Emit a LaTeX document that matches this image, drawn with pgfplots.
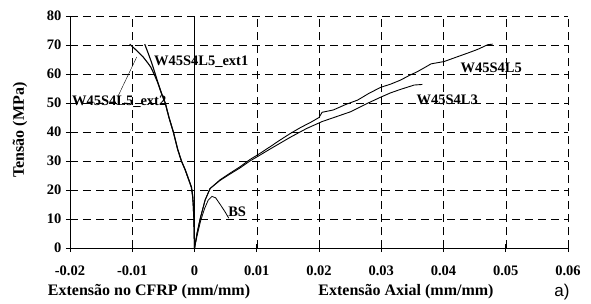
\documentclass[border=0pt]{standalone}
\usepackage{pgfplots}
\pgfplotsset{compat=1.18}
\usepackage{fontspec}
\setmainfont{Liberation Serif}
\newfontfamily\sansf{Liberation Sans}
\begin{document}
\begin{tikzpicture}
\path[use as bounding box] (-70pt,-55pt) rectangle (521pt,248pt);
\begin{axis}[
 at={(0,0)}, anchor=south west,
 scale only axis, width=498pt, height=232pt,
 xmin=-0.02, xmax=0.06, ymin=0, ymax=80,
 axis x line=bottom, axis y line=left,
 axis line style={-, line width=0.9pt},
 scaled x ticks=false, scaled y ticks=false,
 xtick={-0.02,-0.01,0,0.01,0.02,0.03,0.04,0.05,0.06},
 xticklabels={-0.02,-0.01,0,0.01,0.02,0.03,0.04,0.05,0.06},
 ytick={0,10,20,30,40,50,60,70,80},
 yticklabels={0,10,20,30,40,50,60,70,80},
 grid=major,
 major grid style={black, line width=0.5pt, dash pattern=on 8pt off 5pt},
 tick style={black, line width=0.6pt},
 tick align=center, major tick length=8pt,
 ticklabel style={font=\fontsize{14.5}{16}\selectfont\bfseries},
 xticklabel style={yshift=-10pt},
 yticklabel style={xshift=-1pt},
 /pgf/number format/assume math mode=true,
 clip=false,
]
% vertical solid line at x = 0
\addplot[black, line width=1pt] coordinates {(0,0) (0,80)};
% W45S4L5_ext1
\addplot[black, line width=1.1pt] coordinates {
(0,0) (-0.00005,5) (-0.0001,10) (-0.0002,15) (-0.0003,18) (-0.0005,21)
(-0.0010,24) (-0.0015,27) (-0.0021,30) (-0.0027,34) (-0.0034,40)
(-0.0041,45) (-0.0047,50) (-0.0053,53.3)
(-0.0058,56.5) (-0.0063,60) (-0.0069,64) (-0.0075,67.5) (-0.0080,70.3)};
% W45S4L5_ext2
\addplot[black, line width=1.1pt] coordinates {
(0,0) (-0.00005,5) (-0.0001,10) (-0.0002,15) (-0.0003,18) (-0.0005,21)
(-0.0010,24) (-0.0015,27) (-0.0021,30) (-0.0027,34) (-0.0034,40)
(-0.0041,45) (-0.0047,50) (-0.0053,53.3)
(-0.0059,57) (-0.0065,60) (-0.0070,62.3) (-0.0075,63.8) (-0.0083,66)
(-0.0094,68.3) (-0.0104,70.3)};
% W45S4L5
\addplot[black, line width=0.9pt] coordinates {
(0,0) (0.0004,5) (0.0009,10) (0.0017,16.5) (0.0025,20.5) (0.0041,23.5)
(0.0057,25.8) (0.0073,28) (0.0089,30.5) (0.0105,32.6) (0.0122,35)
(0.0138,37.3) (0.0154,39.5) (0.0170,41.5) (0.0188,43.5) (0.0200,45)
(0.0205,46.8) (0.0223,47.6) (0.0243,49.5) (0.0262,51.0) (0.0280,53.3)
(0.0299,55.4) (0.0315,56.5) (0.0331,57.9) (0.0345,59.5) (0.0358,60.8)
(0.0372,62.5) (0.0380,63.5) (0.0401,64.3) (0.0423,66.0) (0.0440,67.3)
(0.0455,68.5) (0.0471,70.1) (0.0479,70.3)};
% W45S4L3
\addplot[black, line width=0.9pt] coordinates {
(0,0) (0.0004,5) (0.0009,10) (0.0017,16.5) (0.0025,20.5) (0.0041,23.3)
(0.0057,25.5) (0.0073,27.6) (0.0089,30.0) (0.0105,32) (0.0122,34.2)
(0.0138,36.2) (0.0154,38.2) (0.0180,41.2) (0.0205,43.6) (0.0228,45.3)
(0.0251,47.0) (0.0275,49.6) (0.0299,52.0) (0.0315,53.5) (0.0331,54.7)
(0.0353,56.2) (0.0366,56.4)};
% BS
\addplot[black, line width=0.8pt] coordinates {
(0,0) (0.0005,5) (0.0010,9.5) (0.0016,13.5) (0.0022,16.5) (0.0028,17.8)
(0.0034,17.3) (0.0042,14.8) (0.0049,12.5) (0.0055,10.3)};
% pointer for ext2
\addplot[black, line width=0.4pt] coordinates {(-0.01234,52.1) (-0.00927,65.9)};
\node[font=\fontsize{14.5}{16}\selectfont\bfseries, inner sep=0pt] at (axis cs:-0.0121,50.5) {W45S4L5\_ext2};
\node[font=\fontsize{14.5}{16}\selectfont\bfseries, inner sep=0pt, anchor=west] at (axis cs:-0.00653,64.1) {W45S4L5\_ext1};
\node[font=\fontsize{14.5}{16}\selectfont\bfseries, inner sep=0pt] at (axis cs:0.04766,62.1) {W45S4L5};
\node[font=\fontsize{14.5}{16}\selectfont\bfseries, inner sep=0pt] at (axis cs:0.0406,51.0) {W45S4L3};
\node[font=\fontsize{14.5}{16}\selectfont\bfseries, inner sep=0pt] at (axis cs:0.00685,12.4) {BS};
\end{axis}
\node[font=\fontsize{16}{18}\selectfont\bfseries, inner sep=0pt] at (79pt,-44pt) {Extensão no CFRP (mm/mm)};
\node[font=\fontsize{16}{18}\selectfont\bfseries, inner sep=0pt] at (336pt,-44pt) {Extensão Axial (mm/mm)};
\node[font=\sansf\fontsize{17}{19}\selectfont, inner sep=0pt] at (492pt,-44pt) {a)};
\node[font=\fontsize{16}{18}\selectfont\bfseries, inner sep=0pt, rotate=90] at (-50pt,118pt) {Tensão (MPa)};
\end{tikzpicture}
\end{document}
